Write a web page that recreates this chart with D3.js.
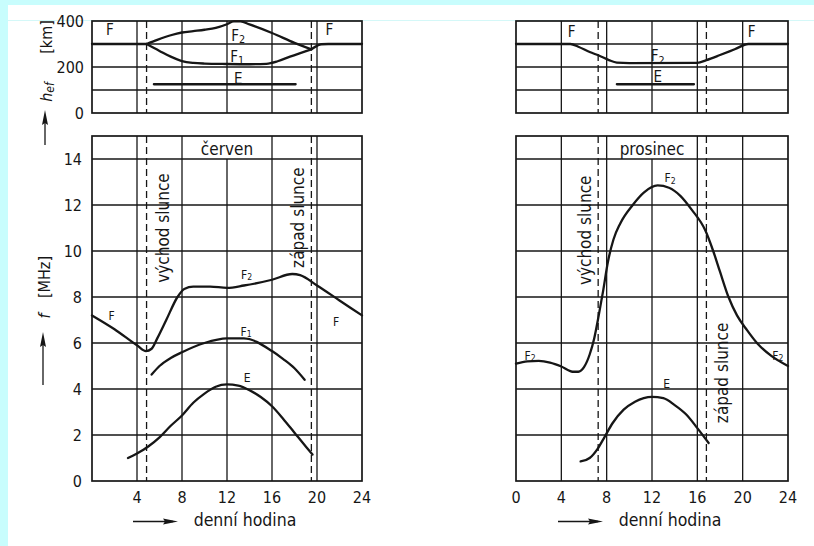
<!DOCTYPE html>
<html>
<head>
<meta charset="utf-8">
<script src="https://cdn.jsdelivr.net/npm/d3@7"></script>
<style>
  body { margin: 0; background: #fff; }
  text { font-family: "DejaVu Sans Condensed", "DejaVu Sans", sans-serif; fill: #161616; }
</style>
</head>
<body>
<svg id="chart" width="814" height="546"></svg>
<script>
// ---- data ----
var hourTicks = [0, 4, 8, 12, 16, 20, 24];
var heightGrid = [100, 200, 300];
var heightLabels = [0, 200, 400];
var freqGrid = [2, 4, 6, 8, 10, 12, 14];
var freqLabels = [0, 2, 4, 6, 8, 10, 12, 14];

var months = ["červen", "prosinec"];
var sunriseSunset = [[4.85, 19.5], [7.25, 16.8]];

// virtual height h_ef [km] (hour, km)
var juneF_morning = [[0, 300], [4.85, 300]];
var juneF2_h = [[4.85, 300], [5.8, 318], [7, 338], [8, 350], [9, 356], [10, 362], [11, 370], [12, 386], [12.6, 398], [13.2, 398], [14, 385], [16, 348], [18, 305], [19.5, 277]];
var juneF1_h = [[4.85, 300], [6, 270], [7, 245], [8, 226], [9, 218], [10, 215], [12, 213], [14, 212], [15.5, 214], [16.5, 225], [17.6, 245], [19.5, 277]];
var juneF_evening = [[19.5, 277], [20, 292], [20.4, 299], [21, 300], [24, 300]];
var juneE_h = [[5.5, 125], [18.1, 125]];

var decF_h = [[0, 300], [4.8, 300], [5.5, 288], [6.5, 265], [7.4, 248], [8.2, 230], [8.9, 219], [10, 217], [16, 218], [16.8, 230], [18, 252], [19.3, 277], [20.5, 300], [24, 300]];
var decE_h = [[8.9, 125], [15.7, 125]];

// critical frequency f [MHz] (hour, MHz)
var juneF2_f = [[0, 7.2], [2, 6.6], [4, 5.9], [4.8, 5.65], [5.3, 5.75], [5.8, 6.2], [6.6, 7.0], [7.6, 8.0], [8.2, 8.35], [9, 8.45], [10.5, 8.45], [12, 8.4], [13.5, 8.5], [16, 8.75], [17.8, 9.0], [18.5, 8.95], [20, 8.5], [22, 7.85], [24, 7.2]];
var juneF1_f = [[5.3, 4.63], [6, 5.0], [7, 5.35], [8, 5.6], [10, 6.0], [12, 6.2], [13.5, 6.2], [16, 5.65], [17, 5.3], [18, 4.9], [18.9, 4.4]];
var juneE_f = [[3.2, 1.0], [4, 1.2], [5, 1.5], [6, 1.9], [7, 2.4], [8, 2.85], [9, 3.4], [10, 3.8], [11, 4.1], [12, 4.2], [13, 4.15], [14, 3.95], [15, 3.65], [16, 3.25], [17, 2.7], [18, 2.1], [19, 1.5], [19.6, 1.15]];

var decF2_f = [[0, 5.1], [1, 5.2], [2, 5.22], [3, 5.15], [4, 4.98], [5, 4.75], [5.5, 4.75], [6, 4.95], [6.5, 5.5], [6.9, 6.2], [7.3, 7.2], [7.7, 8.3], [8.1, 9.5], [8.6, 10.5], [9.2, 11.2], [10.3, 12.0], [11.3, 12.55], [12.5, 12.85], [13.5, 12.75], [14.5, 12.4], [15.5, 11.8], [16.7, 10.9], [17.4, 10.0], [18.0, 9.1], [18.75, 8.0], [19.5, 7.2], [20.4, 6.55], [21.3, 5.98], [22.5, 5.45], [24, 5.0]];
var decE_f = [[5.7, 0.85], [6.5, 1.0], [7.2, 1.4], [7.8, 1.9], [8.5, 2.5], [9.5, 3.1], [10.5, 3.45], [12, 3.66], [13, 3.6], [14, 3.3], [15, 2.9], [16, 2.3], [17, 1.65]];

// layer labels: [text, subscript, hour, value]
var juneTopLabels = [["F", "", 1.6, 360], ["F", "", 21.1, 360], ["F", "2", 13.0, 334], ["F", "1", 12.9, 244], ["E", "", 13.0, 150]];
var decTopLabels = [["F", "", 4.9, 352], ["F", "", 20.8, 352], ["F", "2", 12.5, 246], ["E", "", 12.5, 158]];
var juneBotLabels = [["F", "", 1.75, 7.16], ["F", "", 21.7, 6.9], ["F", "2", 13.75, 8.97], ["F", "1", 13.7, 6.5], ["E", "", 13.8, 4.46]];
var decBotLabels = [["F", "2", 1.24, 5.45], ["F", "2", 23.1, 5.45], ["F", "2", 13.6, 13.17], ["E", "", 13.3, 4.23]];

// rotated sun labels: [text, hour, value]
var juneSunLabels = [["východ slunce", 6.3, 11.0], ["západ slunce", 18.3, 11.45]];
var decSunLabels = [["východ slunce", 6.1, 10.9], ["západ slunce", 18.2, 4.7]];

// ---- drawing ----
var svg = d3.select("#chart");

// page decoration (cyan frame)
svg.append("rect").attr("x", 0).attr("y", 0).attr("width", 814).attr("height", 546).attr("fill", "#fff");
svg.append("rect").attr("x", 0).attr("y", 0).attr("width", 814).attr("height", 5).attr("fill", "#c8fdfd");
svg.append("rect").attr("x", 0).attr("y", 0).attr("width", 8).attr("height", 546).attr("fill", "#c8fdfd");
svg.append("line").attr("x1", 8).attr("x2", 814).attr("y1", 20.5).attr("y2", 20.5)
   .attr("stroke", "#d4f8f8").attr("stroke-width", 1);

var charts = [
  { left: 92, right: 362, top: juneTopLabels, bot: juneBotLabels, sunL: juneSunLabels,
    hLines: [juneF_morning, juneF2_h, juneF1_h, juneF_evening, juneE_h],
    fLines: [juneF2_f, juneF1_f, juneE_f], xLabels: hourTicks.slice(1), yLabels: true },
  { left: 516, right: 788, top: decTopLabels, bot: decBotLabels, sunL: decSunLabels,
    hLines: [decF_h, decE_h],
    fLines: [decF2_f, decE_f], xLabels: hourTicks, yLabels: false }
];

var ink = "#161616";

charts.forEach(function(c, ci) {
  var x = d3.scaleLinear().domain([0, 24]).range([c.left, c.right]);
  var yh = d3.scaleLinear().domain([0, 400]).range([113, 21]);
  var yf = d3.scaleLinear().domain([0, 15]).range([481, 136]);
  var g = svg.append("g");

  var lineH = d3.line().x(function(d) { return x(d[0]); }).y(function(d) { return yh(d[1]); }).curve(d3.curveMonotoneX);
  var lineF = d3.line().x(function(d) { return x(d[0]); }).y(function(d) { return yf(d[1]); }).curve(d3.curveMonotoneX);

  // --- top panel grid
  g.selectAll(".hgrid").data(heightGrid).enter().append("line")
    .attr("x1", x(0)).attr("x2", x(24)).attr("y1", yh).attr("y2", yh)
    .attr("stroke", ink).attr("stroke-width", 1.3);
  g.selectAll(".vgridTop").data(hourTicks.slice(1, -1)).enter().append("line")
    .attr("x1", x).attr("x2", x).attr("y1", yh(400)).attr("y2", yh(0))
    .attr("stroke", ink).attr("stroke-width", 1.3);

  // --- bottom panel grid
  g.selectAll(".fgrid").data(freqGrid).enter().append("line")
    .attr("x1", x(0)).attr("x2", x(24)).attr("y1", yf).attr("y2", yf)
    .attr("stroke", ink).attr("stroke-width", 1.3);
  g.selectAll(".vgridBot").data(hourTicks.slice(1, -1)).enter().append("line")
    .attr("x1", x).attr("x2", x)
    .attr("y1", function(d) { return d === 12 ? yf(14) : yf(15); })
    .attr("y2", yf(0))
    .attr("stroke", ink).attr("stroke-width", 1.3);

  // --- sunrise / sunset dashed lines
  sunriseSunset[ci].forEach(function(h) {
    [[yh(400), yh(0)], [yf(15), yf(0)]].forEach(function(r) {
      g.append("line").attr("x1", x(h)).attr("x2", x(h)).attr("y1", r[0]).attr("y2", r[1])
        .attr("stroke", ink).attr("stroke-width", 1.3).attr("stroke-dasharray", "7,4");
    });
  });

  // --- frames
  g.append("rect").attr("x", x(0)).attr("y", yh(400)).attr("width", x(24) - x(0)).attr("height", yh(0) - yh(400))
    .attr("fill", "none").attr("stroke", ink).attr("stroke-width", 1.7);
  g.append("rect").attr("x", x(0)).attr("y", yf(15)).attr("width", x(24) - x(0)).attr("height", yf(0) - yf(15))
    .attr("fill", "none").attr("stroke", ink).attr("stroke-width", 1.7);

  // --- curves
  c.hLines.forEach(function(d) {
    g.append("path").attr("d", lineH(d)).attr("fill", "none").attr("stroke", ink)
      .attr("stroke-width", 2.3).attr("stroke-linecap", "round");
  });
  c.fLines.forEach(function(d) {
    g.append("path").attr("d", lineF(d)).attr("fill", "none").attr("stroke", ink)
      .attr("stroke-width", 2.3).attr("stroke-linecap", "round");
  });

  // --- layer labels
  function layerLabel(d, yScale, size) {
    var t = g.append("text").attr("x", x(d[2])).attr("y", yScale(d[3]))
      .attr("text-anchor", "middle").attr("dominant-baseline", "central")
      .style("font-size", size + "px").text(d[0]);
    if (d[1]) t.append("tspan").attr("dy", size * 0.22).style("font-size", (size * 0.72) + "px").text(d[1]);
  }
  c.top.forEach(function(d) { layerLabel(d, yh, 15); });
  c.bot.forEach(function(d) { layerLabel(d, yf, 12); });

  // --- month title
  g.append("text").attr("x", x(12)).attr("y", yf(14.45)).attr("text-anchor", "middle")
    .attr("dominant-baseline", "central").style("font-size", "17px").text(months[ci]);

  // --- sunrise / sunset rotated labels
  c.sunL.forEach(function(d) {
    g.append("text").attr("transform", "translate(" + x(d[1]) + "," + yf(d[2]) + ") rotate(-90)")
      .attr("text-anchor", "middle").attr("dominant-baseline", "central")
      .style("font-size", "17px").text(d[0]);
  });

  // --- x tick labels
  g.selectAll(".xl").data(c.xLabels).enter().append("text")
    .attr("x", x).attr("y", 497).attr("text-anchor", "middle").attr("dominant-baseline", "central")
    .style("font-size", "16px").text(function(d) { return d; });

  // --- x axis title with arrow
  var ax = x(12) - 94;
  g.append("line").attr("x1", ax).attr("x2", ax + 40).attr("y1", 521.5).attr("y2", 521.5)
    .attr("stroke", ink).attr("stroke-width", 1.3);
  g.append("path").attr("d", "M" + (ax + 45) + ",521.5 L" + (ax + 30) + ",518.5 L" + (ax + 32) + ",521.5 L" + (ax + 30) + ",524.5 Z")
    .attr("fill", ink);
  g.append("text").attr("x", x(12) + 18).attr("y", 520).attr("text-anchor", "middle")
    .attr("dominant-baseline", "central").style("font-size", "17.5px").text("denní hodina");

  // --- y labels (left chart only)
  if (c.yLabels) {
    g.selectAll(".yhl").data(heightLabels).enter().append("text")
      .attr("x", 84).attr("y", yh).attr("text-anchor", "end").attr("dominant-baseline", "central")
      .style("font-size", "16px").text(function(d) { return d; });
    g.selectAll(".yfl").data(freqLabels).enter().append("text")
      .attr("x", 82).attr("y", yf).attr("text-anchor", "end").attr("dominant-baseline", "central")
      .style("font-size", "16px").text(function(d) { return d; });

    // h_ef [km]
    var th = g.append("text").attr("transform", "translate(46,92) rotate(-90)")
      .attr("text-anchor", "middle").attr("dominant-baseline", "central").style("font-size", "16px");
    th.append("tspan").style("font-style", "italic").text("h");
    th.append("tspan").attr("dy", 4).style("font-size", "12px").style("font-style", "italic").text("ef");
    g.append("text").attr("transform", "translate(46,37) rotate(-90)")
      .attr("text-anchor", "middle").attr("dominant-baseline", "central").style("font-size", "16px").text("[km]");
    upArrow(45, 145, 110);

    // f [MHz]
    g.append("text").attr("transform", "translate(44,316) rotate(-90)")
      .attr("text-anchor", "middle").attr("dominant-baseline", "central")
      .style("font-size", "16px").style("font-style", "italic").text("f");
    g.append("text").attr("transform", "translate(44,277) rotate(-90)")
      .attr("text-anchor", "middle").attr("dominant-baseline", "central").style("font-size", "16px").text("[MHz]");
    upArrow(43, 385, 332);
  }

  function upArrow(ux, y0, y1) {
    g.append("line").attr("x1", ux).attr("x2", ux).attr("y1", y0).attr("y2", y1 + 6)
      .attr("stroke", ink).attr("stroke-width", 1.3);
    g.append("path").attr("d", "M" + ux + "," + y1 + " L" + (ux - 3) + "," + (y1 + 15) + " L" + ux + "," + (y1 + 13) + " L" + (ux + 3) + "," + (y1 + 15) + " Z")
      .attr("fill", ink);
  }
});
</script>
</body>
</html>
